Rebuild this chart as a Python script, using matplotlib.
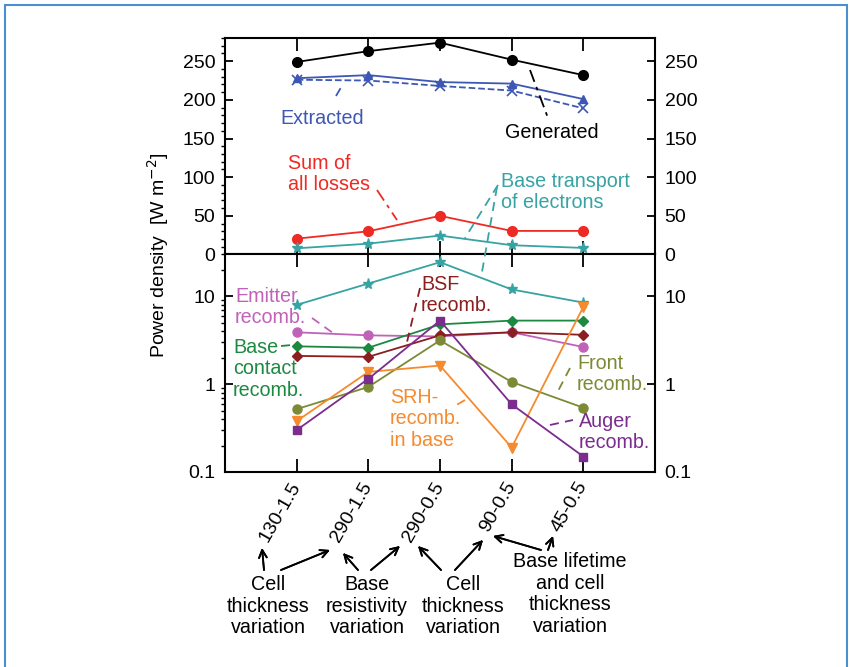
import matplotlib
matplotlib.use('Agg')
import matplotlib.pyplot as plt
from matplotlib.lines import Line2D
from matplotlib.patches import Rectangle

plt.rcParams['font.family'] = ['Liberation Sans', 'DejaVu Sans']

W, H = 850, 667

# data
cats = ['130-1.5', '290-1.5', '290-0.5', '90-0.5', '45-0.5']
generated = [249, 263, 274, 252, 232]
extracted = [228, 232, 223, 221, 201]
extracted_alt = [226, 225, 218, 212, 189]
sum_losses = [20.5, 30, 50, 30.5, 30.5]
base_transport = [8, 14, 24.5, 12, 8.5]
emitter = [3.9, 3.6, 3.5, 3.9, 2.65]
base_contact = [2.7, 2.6, 4.8, 5.3, 5.3]
bsf = [2.1, 2.05, 3.6, 3.9, 3.65]
front = [0.52, 0.93, 3.15, 1.06, 0.54]
srh = [0.38, 1.38, 1.63, 0.19, 7.6]
auger = [0.3, 1.15, 5.3, 0.59, 0.15]

BLACK = 'black'
BLUE = '#3d58b3'
RED = '#ee2a24'
TEAL = '#37a3a3'
PINK = '#c162b9'
GREEN = '#1b8a40'
DRED = '#8b1e1e'
OLIVE = '#7d8a35'
ORANGE = '#f68a2e'
PURPLE = '#7b2d8e'


def fp(x, y):
    # pixel position -> figure fraction
    return x / W, 1 - y / H


fig = plt.figure(figsize=(W / 100, H / 100), dpi=100)

L, R, T, M, B = 225, 655, 38, 254.5, 472
ax1 = fig.add_axes([L / W, 1 - M / H, (R - L) / W, (M - T) / H])
ax2 = fig.add_axes([L / W, 1 - B / H, (R - L) / W, (B - M) / H])

x = list(range(len(cats)))
lw = 1.3

ax1.plot(x, generated, '-o', color=BLACK, lw=lw, ms=7)
ax1.plot(x, extracted, '-^', color=BLUE, lw=lw, ms=6)
ax1.plot(x, extracted_alt, '--x', color=BLUE, lw=lw, ms=7, mew=1.2)
ax1.plot(x, sum_losses, '-o', color=RED, lw=lw, ms=7)
ax1.plot(x, base_transport, '-*', color=TEAL, lw=lw, ms=8)

ax2.plot(x, base_transport, '-*', color=TEAL, lw=lw, ms=8)
ax2.plot(x, emitter, '-o', color=PINK, lw=lw, ms=6.5)
ax2.plot(x, base_contact, '-D', color=GREEN, lw=lw, ms=5.5)
ax2.plot(x, bsf, '-D', color=DRED, lw=lw, ms=5.5)
ax2.plot(x, front, '-o', color=OLIVE, lw=lw, ms=6.5)
ax2.plot(x, srh, '-v', color=ORANGE, lw=lw, ms=6.5)
ax2.plot(x, auger, '-s', color=PURPLE, lw=lw, ms=6)

ax1.set_xlim(-1, 5)
ax2.set_xlim(-1, 5)
ax1.set_ylim(0, 280)
ax2.set_yscale('log')
ax2.set_ylim(0.1, 30)

ax1.set_yticks(range(0, 251, 50))
ax1.set_yticks(range(0, 281, 10), minor=True)
ax2.set_yticks([0.1, 1, 10])
ax2.set_yticklabels(['0.1', '1', '10'])

for ax in (ax1, ax2):
    ax.set_xticks(x)
    for s in ax.spines.values():
        s.set_linewidth(1.5)
    ax.tick_params(direction='in', top=True, bottom=True, left=True, right=True,
                   labelleft=True, labelright=True, labelsize=14, pad=7)
    ax.tick_params(axis='x', which='major', length=9.5, width=1.3)
    ax.tick_params(axis='y', which='major', length=6, width=1.3)
    ax.tick_params(axis='y', which='minor', length=3, width=1.0)
    ax.tick_params(axis='x', which='minor', bottom=False, top=False)

ax1.tick_params(labelbottom=False)
ax2.set_xticklabels(cats, rotation=60, ha='right', va='center',
                    rotation_mode='anchor')
ax2.tick_params(axis='x', pad=8)

fig.text(*fp(158, 255), 'Power density  [W m$^{-2}$]', rotation=90,
         ha='center', va='center', fontsize=14)

fs = 14.2
ls = 1.18
labels = [
    (280, 118, 'Extracted', BLUE),
    (505, 133, 'Generated', BLACK),
    (288, 174, 'Sum of\nall losses', RED),
    (501, 192, 'Base transport\nof electrons', TEAL),
    (235, 307, 'Emitter\nrecomb.', PINK),
    (233, 369, 'Base\ncontact\nrecomb.', GREEN),
    (421, 295, 'BSF\nrecomb.', DRED),
    (577, 374, 'Front\nrecomb.', OLIVE),
    (390, 419, 'SRH-\nrecomb.\nin base', ORANGE),
    (579, 432, 'Auger\nrecomb.', PURPLE),
]
for lx, ly, txt, c in labels:
    fig.text(*fp(lx, ly), txt, ha='left', va='center', fontsize=fs,
             color=c, linespacing=ls)

dashdot = (0, (7, 3, 2, 3))
dashed = (0, (5, 3.5))
leaders = [
    ((336, 96), (343, 84), BLUE, dashed),
    ((530, 70), (548, 118), BLACK, dashdot),
    ((377, 190), (397, 220), RED, dashdot),
    ((498, 185), (465, 238), TEAL, dashed),
    ((497, 187), (482, 272), TEAL, dashed),
    ((312, 318), (333, 333), PINK, dashed),
    ((281, 346), (292, 345), GREEN, dashed),
    ((420, 288), (407, 342), DRED, dashed),
    ((570, 368), (557, 393), OLIVE, dashed),
    ((465, 400), (453, 407), ORANGE, dashed),
    ((550, 425), (573, 420), PURPLE, dashed),
]
for p0, p1, c, st in leaders:
    a, b = fp(*p0), fp(*p1)
    fig.add_artist(Line2D([a[0], b[0]], [a[1], b[1]], color=c, lw=1.3,
                          linestyle=st, transform=fig.transFigure))

groups = [
    (268, 606, 'Cell\nthickness\nvariation'),
    (367, 606, 'Base\nresistivity\nvariation'),
    (463, 606, 'Cell\nthickness\nvariation'),
    (570, 594, 'Base lifetime\nand cell\nthickness\nvariation'),
]
for gx, gy, txt in groups:
    fig.text(*fp(gx, gy), txt, ha='center', va='center', fontsize=fs,
             linespacing=ls)

arrows = [
    ((264, 570), (262, 548)),
    ((281, 570), (330, 550)),
    ((358, 570), (343, 553)),
    ((371, 570), (400, 546)),
    ((441, 570), (418, 546)),
    ((455, 570), (483, 540)),
    ((541, 550), (493, 536)),
    ((548, 550), (553, 536)),
]
for p0, p1 in arrows:
    fig.add_artist(plt.annotate('', xy=fp(*p1), xycoords='figure fraction',
                                xytext=fp(*p0), textcoords='figure fraction',
                                arrowprops=dict(arrowstyle='->', lw=1.3,
                                                color='black',
                                                shrinkA=0, shrinkB=0,
                                                mutation_scale=14)))

x0, y0 = fp(5, 720)
x1, y1 = fp(847, 5)
fig.add_artist(Rectangle((x0, y0), x1 - x0, y1 - y0, transform=fig.transFigure,
                         fill=False, edgecolor='#4a90d0', lw=1.5))

fig.savefig('out.png', dpi=100)
